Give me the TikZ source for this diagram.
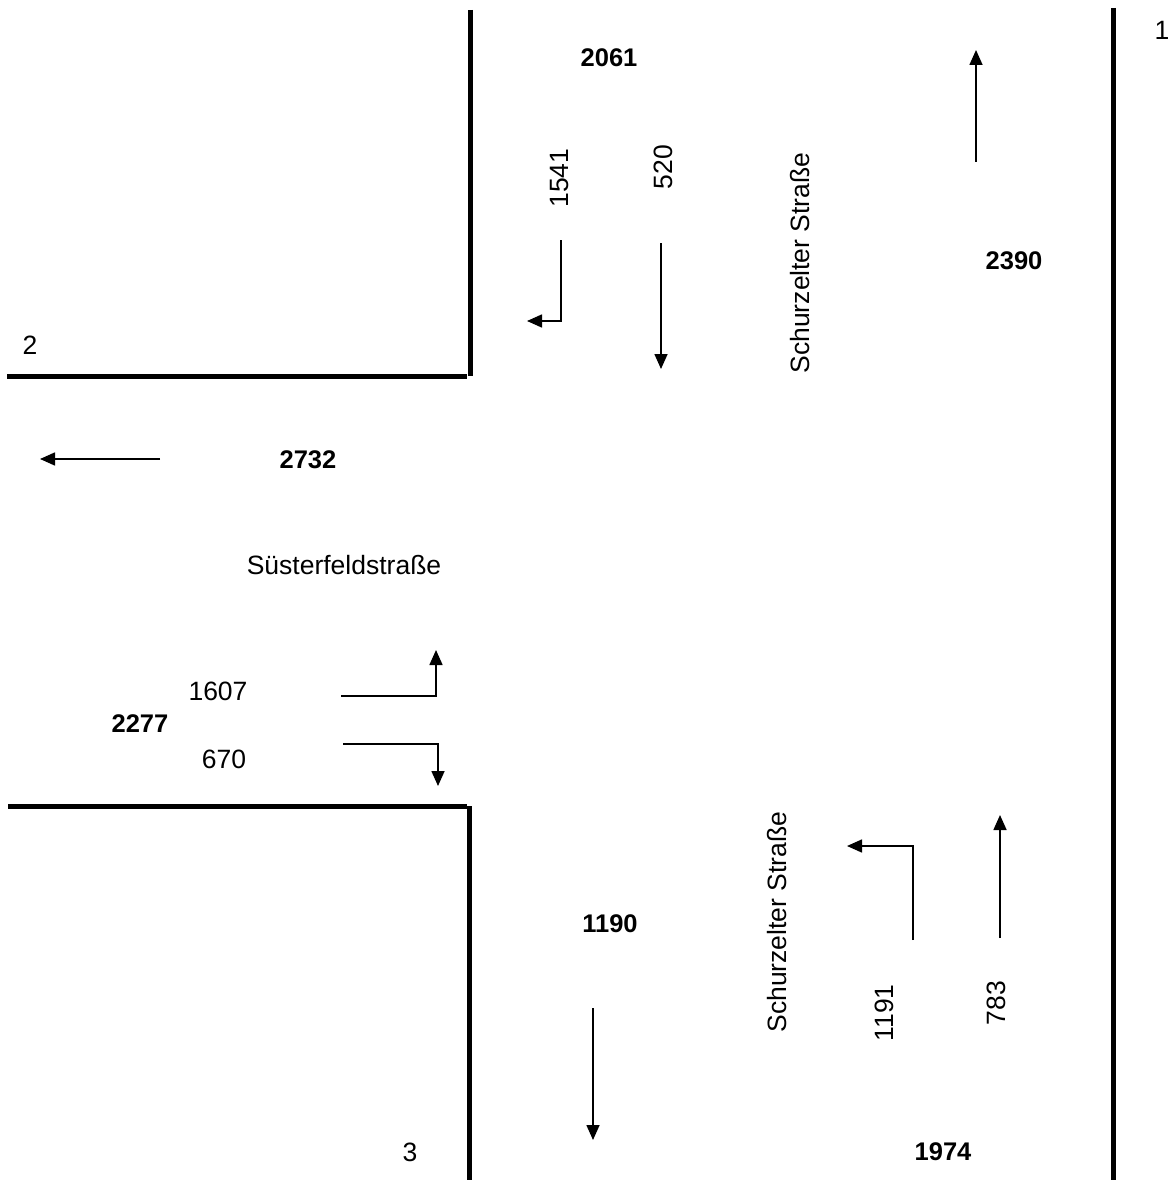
\documentclass[tikz,border=0pt]{standalone}
\usepackage{fontspec}
\setmainfont{Liberation Sans}
\usetikzlibrary{arrows.meta}
\begin{document}
\begin{tikzpicture}[x=1pt,y=-1pt,
  wall/.style={line width=5pt},
  flow/.style={line width=1.6pt,-{Triangle[length=15pt,width=13pt]}},
  lbl/.style={inner sep=0pt,font=\fontsize{26.5}{31}\selectfont},
  big/.style={inner sep=0pt,font=\fontsize{25.5}{30}\selectfont\bfseries}]
\useasboundingbox (0,0) rectangle (1171,1185);
% walls
\draw[wall] (7,376) -- (467,376);
\draw[wall] (470,10) -- (470,376);
\draw[wall] (8,806) -- (467,806);
\draw[wall] (469,806) -- (469,1180);
\draw[wall] (1113,8) -- (1113,1180);
% labels
\node[lbl] (n1) at (1162,30) {1};
\node[lbl] (n2) at (30,345) {2};
\node[lbl] (n3) at (410,1152) {3};
\node[big] (t2061) at (609,58) {2061};
\node[big] (t2390) at (1014,261) {2390};
\node[big] (t2732) at (308,460) {2732};
\node[big] (t2277) at (140,724) {2277};
\node[big] (t1190) at (610,924) {1190};
\node[big] (t1974) at (943,1152) {1974};
\node[lbl,rotate=90] (t1541) at (560,178) {1541};
\node[lbl,rotate=90] (t520) at (663,167) {520};
\node[lbl,rotate=90] (s1) at (800,263) {Schurzelter Straße};
\node[lbl,rotate=90] (s2) at (777,922) {Schurzelter Straße};
\node[lbl] (s3) at (344,565) {Süsterfeldstraße};
\node[lbl] (t1607) at (218,691) {1607};
\node[lbl] (t670) at (224,759) {670};
\node[lbl,rotate=90] (t1191) at (884,1013) {1191};
\node[lbl,rotate=90] (t783) at (996,1003) {783};
% arrow coordinates
\coordinate (a1s) at (976,162); \coordinate (a1e) at (976,50);
\coordinate (a2s) at (561,240); \coordinate (a2m) at (561,321); \coordinate (a2e) at (527,321);
\coordinate (a3s) at (661,243); \coordinate (a3e) at (661,369);
\coordinate (a4s) at (160,459); \coordinate (a4e) at (40,459);
\coordinate (a5s) at (341,696); \coordinate (a5m) at (436,696); \coordinate (a5e) at (436,650);
\coordinate (a6s) at (343,744); \coordinate (a6m) at (438,744); \coordinate (a6e) at (438,786);
\coordinate (a7s) at (913,940); \coordinate (a7m) at (913,846); \coordinate (a7e) at (847,846);
\coordinate (a8s) at (1000,938); \coordinate (a8e) at (1000,815);
\coordinate (a9s) at (593,1008); \coordinate (a9e) at (593,1140);
\draw[flow] (a1s) -- (a1e);
\draw[flow] (a2s) -- (a2m) -- (a2e);
\draw[flow] (a3s) -- (a3e);
\draw[flow] (a4s) -- (a4e);
\draw[flow] (a5s) -- (a5m) -- (a5e);
\draw[flow] (a6s) -- (a6m) -- (a6e);
\draw[flow] (a7s) -- (a7m) -- (a7e);
\draw[flow] (a8s) -- (a8e);
\draw[flow] (a9s) -- (a9e);
\end{tikzpicture}
\end{document}
